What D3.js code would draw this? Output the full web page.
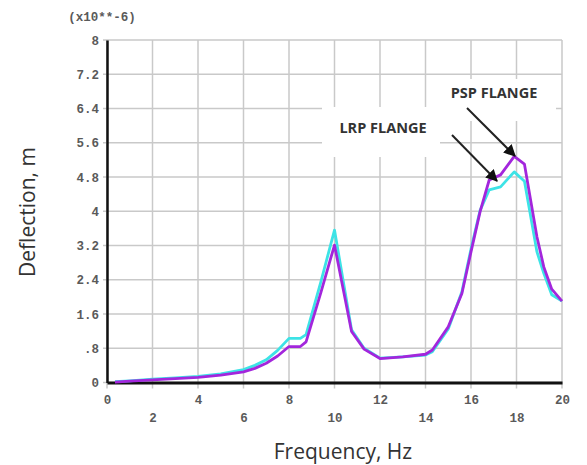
<!DOCTYPE html>
<html>
<head>
<meta charset="utf-8">
<script src="https://cdn.jsdelivr.net/npm/d3@7"></script>
<style>
  body { margin: 0; background: #fff; }
  svg { display: block; }
</style>
</head>
<body>
<svg width="587" height="465"></svg>
<script>
const svg = d3.select('svg');
const margin = { top: 40, left: 107, right: 25, bottom: 82.5 };
const width = 587, height = 465;

// frequency (Hz) and deflection (x10^-6 m)
const freq   = [0.35, 1, 2, 3, 4, 5, 6, 6.5, 7, 7.5, 8, 8.5, 8.75, 9.4, 10, 10.75, 11.3, 12, 13, 14, 14.3, 15, 15.6, 16, 16.4, 16.8, 17.3, 17.9, 18.35, 18.9, 19.2, 19.55, 20];
const lrp    = [0.02, 0.04, 0.08, 0.11, 0.14, 0.2, 0.3, 0.4, 0.53, 0.75, 1.03, 1.03, 1.12, 2.35, 3.56, 1.23, 0.8, 0.57, 0.6, 0.64, 0.72, 1.25, 2.12, 3.12, 4.02, 4.5, 4.57, 4.92, 4.7, 3.05, 2.55, 2.05, 1.9];
const psp    = [0.01, 0.03, 0.06, 0.09, 0.12, 0.17, 0.25, 0.33, 0.45, 0.62, 0.84, 0.84, 0.95, 2.1, 3.21, 1.19, 0.78, 0.56, 0.6, 0.66, 0.76, 1.3, 2.08, 3.05, 3.99, 4.73, 4.85, 5.28, 5.1, 3.4, 2.7, 2.18, 1.9];
const xTicks = [0, 2, 4, 6, 8, 10, 12, 14, 16, 18, 20];
const yTicks = [0, 0.8, 1.6, 2.4, 3.2, 4, 4.8, 5.6, 6.4, 7.2, 8];
const yTickLabels = ['0', '.8', '1.6', '2.4', '3.2', '4', '4.8', '5.6', '6.4', '7.2', '8'];

const x = d3.scaleLinear().domain([0, 20]).range([margin.left, width - margin.right]);
const y = d3.scaleLinear().domain([0, 8]).range([height - margin.bottom, margin.top]);

const monoFont = '"Liberation Mono", "DejaVu Sans Mono", monospace';
const sansFont = '"Open Sans", "Noto Sans", sans-serif';

// grid
const grid = svg.append('g').attr('class', 'grid');
grid.selectAll('.vgrid').data(xTicks).enter().append('line')
  .attr('x1', d => x(d)).attr('x2', d => x(d))
  .attr('y1', y(8)).attr('y2', y(0) + 6)
  .attr('stroke', '#c9c9c9').attr('stroke-width', 1.5);
grid.selectAll('.hgrid').data(yTicks).enter().append('line')
  .attr('x1', x(0) - 4).attr('x2', x(20))
  .attr('y1', d => y(d)).attr('y2', d => y(d))
  .attr('stroke', '#c9c9c9').attr('stroke-width', 1.5);

// white boxes behind the annotations
svg.append('rect').attr('x', 322).attr('y', 107).attr('width', 118).attr('height', 50).attr('fill', '#fff');
svg.append('rect').attr('x', 432).attr('y', 79).attr('width', 124).attr('height', 42).attr('fill', '#fff');

// axes
const yAxis = d3.axisLeft(y).tickValues(yTicks).tickSize(0).tickPadding(8)
  .tickFormat((d, i) => yTickLabels[i]);
const gy = svg.append('g').attr('transform', `translate(${x(0)},0)`).call(yAxis);
gy.select('.domain').attr('stroke', '#111').attr('stroke-width', 2.5);
gy.selectAll('text').attr('font-family', monoFont).attr('font-weight', 'bold')
  .attr('font-size', 12.5).attr('fill', '#5a5a5a');

const xAxis = d3.axisBottom(x).tickValues(xTicks).tickSize(0).tickPadding(13)
  .tickFormat(d3.format('d'));
const gx = svg.append('g').attr('transform', `translate(0,${y(0)})`).call(xAxis);
gx.select('.domain').attr('stroke', '#111').attr('stroke-width', 3);
gx.selectAll('text').attr('font-family', monoFont).attr('font-weight', 'bold')
  .attr('font-size', 12.5).attr('fill', '#5a5a5a')
  .attr('dy', (d, i) => i % 2 ? '2.15em' : '0.71em');

svg.append('text').attr('x', 102).attr('y', 21).attr('text-anchor', 'middle')
  .attr('font-family', monoFont).attr('font-weight', 'bold').attr('font-size', 12.5)
  .attr('fill', '#5a5a5a').text('(x10**-6)');

// lines
const line = vals => d3.line().x((d, i) => x(freq[i])).y(d => y(d))(vals);
svg.append('path').attr('d', line(lrp)).attr('fill', 'none')
  .attr('stroke', '#3de3e6').attr('stroke-width', 2.8).attr('stroke-linejoin', 'round');
svg.append('path').attr('d', line(psp)).attr('fill', 'none')
  .attr('stroke', '#a326dc').attr('stroke-width', 2.8).attr('stroke-linejoin', 'round');

// annotations
const defs = svg.append('defs');
defs.append('marker').attr('id', 'arrow').attr('viewBox', '0 0 10 10')
  .attr('refX', 9).attr('refY', 5).attr('markerWidth', 6).attr('markerHeight', 6)
  .attr('orient', 'auto')
  .append('path').attr('d', 'M0,0L10,5L0,10Z').attr('fill', '#111');

svg.append('line').attr('x1', 467).attr('y1', 108).attr('x2', 515).attr('y2', 156)
  .attr('stroke', '#222').attr('stroke-width', 2).attr('marker-end', 'url(#arrow)');
svg.append('line').attr('x1', 452).attr('y1', 135).attr('x2', 497).attr('y2', 181)
  .attr('stroke', '#222').attr('stroke-width', 2).attr('marker-end', 'url(#arrow)');

svg.append('text').attr('x', 494).attr('y', 98).attr('text-anchor', 'middle')
  .attr('font-family', sansFont).attr('font-weight', 'bold').attr('font-size', 14.5)
  .attr('fill', '#333').text('PSP FLANGE');
svg.append('text').attr('x', 383).attr('y', 133).attr('text-anchor', 'middle')
  .attr('font-family', sansFont).attr('font-weight', 'bold').attr('font-size', 14.5)
  .attr('fill', '#333').text('LRP FLANGE');

// axis titles
svg.append('text').attr('x', 343).attr('y', 459).attr('text-anchor', 'middle')
  .attr('font-family', sansFont).attr('font-size', 21).attr('fill', '#333')
  .text('Frequency, Hz');
svg.append('text').attr('transform', 'translate(35,212) rotate(-90)')
  .attr('text-anchor', 'middle')
  .attr('font-family', sansFont).attr('font-size', 21).attr('fill', '#333')
  .text('Deflection, m');
</script>
</body>
</html>
